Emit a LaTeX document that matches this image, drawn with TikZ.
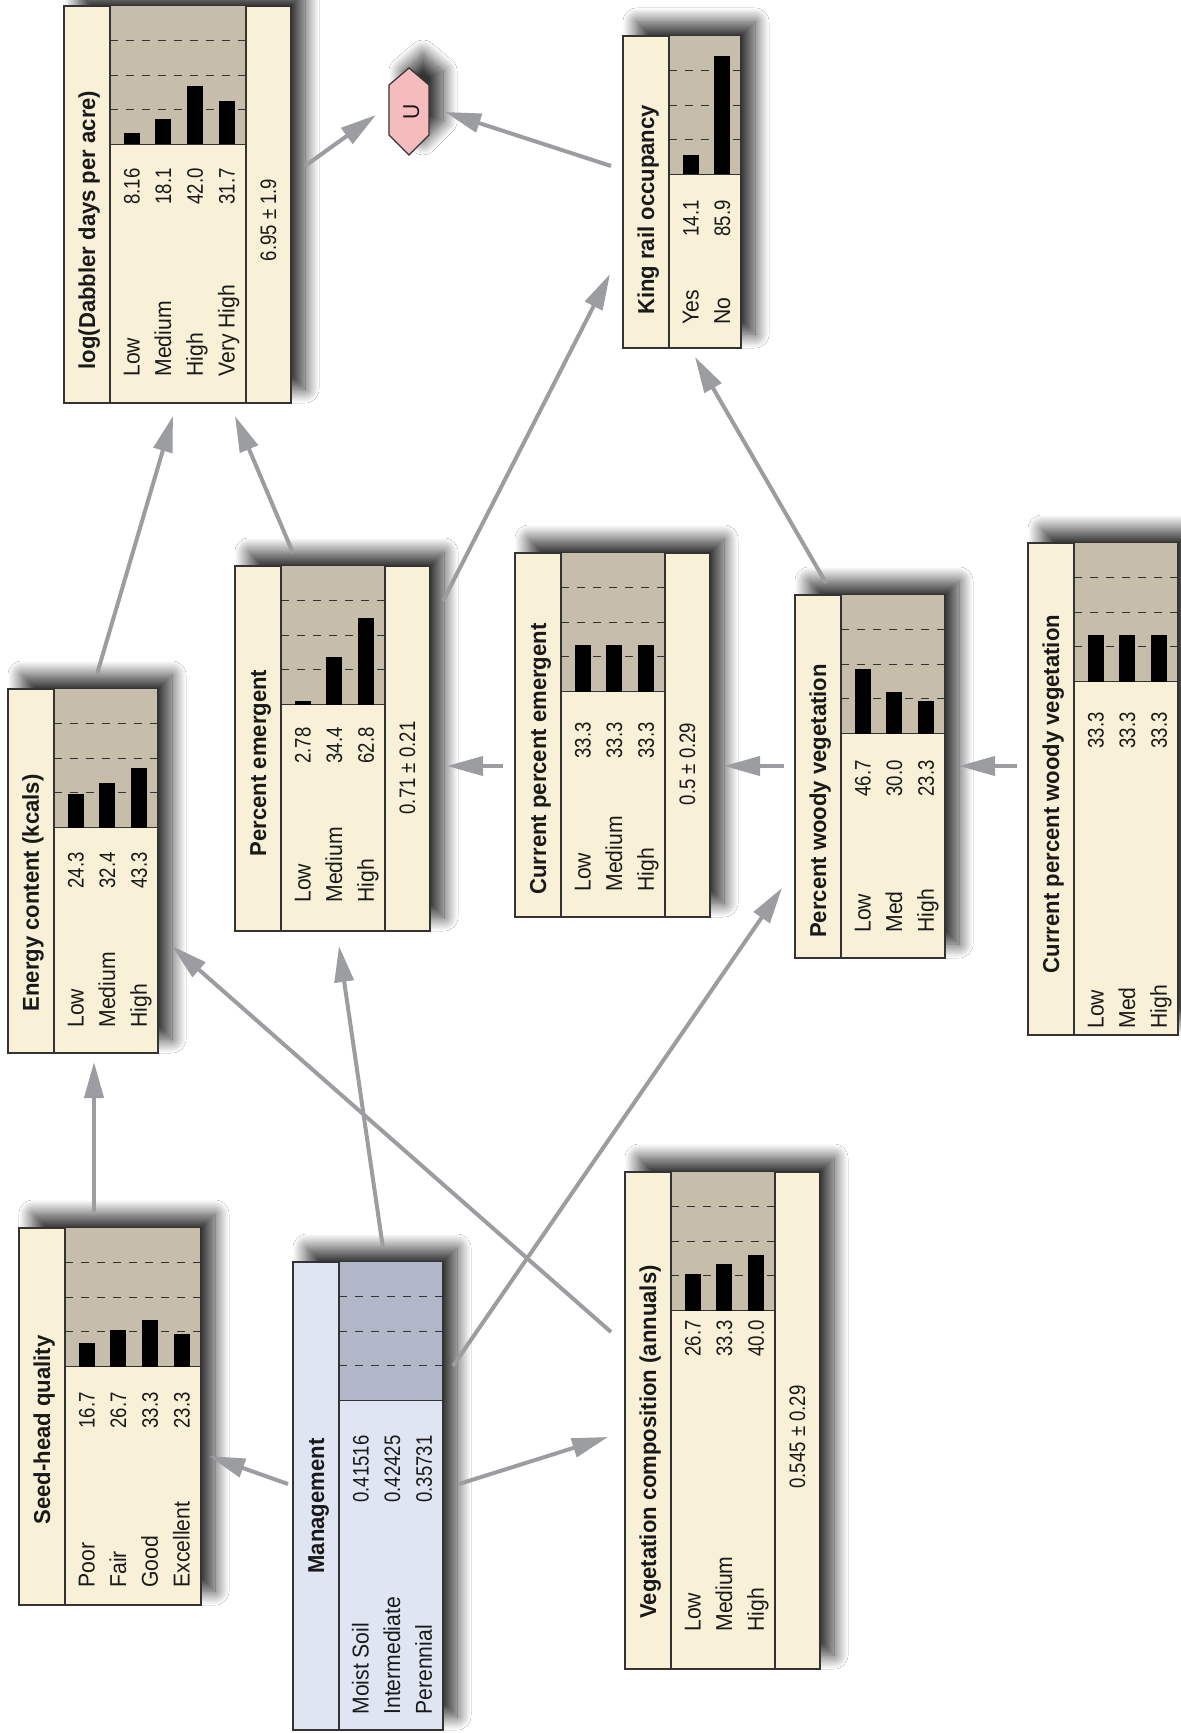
\documentclass[tikz,border=0pt]{standalone}
\usepackage{fontspec}
\setmainfont{Liberation Sans}[FakeStretch=0.92]
\newfontfamily\titlefont{Liberation Sans}[FakeStretch=0.96]
\newfontfamily\numfont{Liberation Sans}[FakeStretch=0.83]
\usetikzlibrary{arrows.meta,fit,shadows.blur}

% one network node: frame, chart panel and its grid (all sizes in px)
\newcommand{\netbox}[8]{%
  \pgfmathsetmacro{\bxT}{#2+46}%
  \pgfmathsetmacro{\bxC}{#2+54+32*#5}%
  \pgfmathsetmacro{\bxR}{\bxC+#6}%
  \pgfmathsetmacro{\bxG}{#3+138.5}%
  \node[netframe, fill=#7, fit={(#2,#3) (\bxR,#4)}] (#1) {};
  \fill[#8] (\bxT,#3) rectangle (\bxC,\bxG);
  \foreach \f in {0.25,0.5,0.75}
    \draw[gridline] (\bxT,{\bxG-138.5*\f}) -- (\bxC,{\bxG-138.5*\f});
  \draw[netedge] (\bxT,#3) -- (\bxT,#4);
  \draw[netedge] (\bxT,\bxG) -- (\bxC,\bxG);
  \draw[netedge] (\bxC,#3) -- (\bxC,#4);
  \draw[netedge] (#1.north west) rectangle (#1.south east);
}
% bars of the belief chart
\newcommand{\netbars}[3]{%
  \foreach \p [count=\i from 0] in {#3}
    \fill[netbar] ({#1+59.5+31.7*\i},{#2+138.5}) rectangle ({#1+75.5+31.7*\i},{#2+138.5-1.385*\p});
}
% state names and their values
\newcommand{\netrows}[5]{%
  \foreach \s/\v [count=\i from 0] in {#5} {
    \node[statelbl] (#1-s\i) at ({#2+75.5+31.7*\i},#3) {\s};
    \node[vallbl] (#1-v\i) at ({#2+75.5+31.7*\i},#4) {\v};
  }%
}

\begin{document}
\begin{tikzpicture}[
    x=0.5pt, y=-0.5pt,
    every node/.style={inner sep=0pt, text=black!90},
    netshadow/.style={blur shadow={shadow xshift=7pt, shadow yshift=7pt,
                   shadow blur radius=7pt, shadow blur steps=24, shadow opacity=80}},
    netframe/.style={draw=edgeGray, line width=0.6pt, inner sep=0pt, netshadow},
    netedge/.style={draw=edgeGray, line width=0.6pt},
    gridline/.style={draw=edgeGray, line width=0.5pt, dash pattern=on 3.75pt off 4.25pt},
    netbar/.style={fill=black},
    statelbl/.style={rotate=90, anchor=base west, font=\fontsize{11.5}{13}\selectfont},
    vallbl/.style={rotate=90, anchor=base east, font=\numfont\fontsize{11.2}{13}\selectfont},
    titlelbl/.style={rotate=90, anchor=base, font=\titlefont\bfseries\fontsize{11.5}{13}\selectfont},
    netlink/.style={draw=linkGray, line width=2pt, -{Triangle[length=18pt,width=9.5pt]}},
]

\definecolor{nodeCream}{RGB}{248,241,215}
\definecolor{chartTan}{RGB}{198,190,170}
\definecolor{mgmtBlue}{RGB}{223,229,242}
\definecolor{mgmtChart}{RGB}{178,182,201}
\definecolor{edgeGray}{RGB}{51,51,51}
\definecolor{linkGray}{RGB}{156,157,161}
\definecolor{utilPink}{RGB}{246,187,189}

\fill[white] (0,0) rectangle (1180,1733);
\useasboundingbox (0,0) rectangle (1180,1733);

% ============================================================
% TOP ROW
% ============================================================
\netbox{dab}{64}{6}{403}{4}{45}{nodeCream}{chartTan}
\netbars{64}{6}{8.16,18.1,42.0,31.7}
\netrows{dab}{64}{377}{168}{Low/8.16,Medium/18.1,High/42.0,Very High/31.7}
\node[titlelbl] (dab-t) at (95,230) {log(Dabbler days per acre)};
\node[vallbl, anchor=base] (dab-m) at (276,220) {6.95 ± 1.9};

\netbox{king}{623}{36}{348}{2}{0}{nodeCream}{chartTan}
\netbars{623}{36}{14.1,85.9}
\netrows{king}{623}{325}{200}{Yes/14.1,No/85.9}
\node[titlelbl] (king-t) at (654,210) {King rail occupancy};

% utility node
\filldraw[fill=utilPink, draw=edgeGray, line width=0.6pt, netshadow]
    (409,68) -- (429,85) -- (429,135) -- (409,155) -- (389,135) -- (389,85) -- cycle;
\node[rotate=90, anchor=base, font=\fontsize{11.5}{13}\selectfont] (u) at (419,112) {U};

% ============================================================
% MIDDLE ROW
% ============================================================
\netbox{energy}{8}{689}{1053}{3}{0}{nodeCream}{chartTan}
\netbars{8}{689}{24.3,32.4,43.3}
\netrows{energy}{8}{1028}{852}{Low/24.3,Medium/32.4,High/43.3}
\node[titlelbl] (energy-t) at (39,893) {Energy content (kcals)};

\netbox{pctem}{235}{566}{931}{3}{45}{nodeCream}{chartTan}
\netbars{235}{566}{2.78,34.4,62.8}
\netrows{pctem}{235}{903}{727}{Low/2.78,Medium/34.4,High/62.8}
\node[titlelbl] (pctem-t) at (266,763) {Percent emergent};
\node[vallbl, anchor=base] (pctem-m) at (415,768) {0.71 ± 0.21};

\netbox{curem}{515}{553}{917}{3}{45}{nodeCream}{chartTan}
\netbars{515}{553}{33.3,33.3,33.3}
\netrows{curem}{515}{892}{722}{Low/33.3,Medium/33.3,High/33.3}
\node[titlelbl] (curem-t) at (546,759) {Current percent emergent};
\node[vallbl, anchor=base] (curem-m) at (695,764) {0.5 ± 0.29};

\netbox{woody}{795}{595}{958}{3}{0}{nodeCream}{chartTan}
\netbars{795}{595}{46.7,30.0,23.3}
\netrows{woody}{795}{933}{760}{Low/46.7,Med/30.0,High/23.3}
\node[titlelbl] (woody-t) at (826,801) {Percent woody vegetation};

\netbox{curwoody}{1028}{543}{1035}{3}{0}{nodeCream}{chartTan}
\netbars{1028}{543}{33.3,33.3,33.3}
\netrows{curwoody}{1028}{1029}{712}{Low/33.3,Med/33.3,High/33.3}
\node[titlelbl] (curwoody-t) at (1059,794) {Current percent woody vegetation};

% ============================================================
% BOTTOM ROW
% ============================================================
\netbox{seed}{19}{1228}{1605}{4}{0}{nodeCream}{chartTan}
\netbars{19}{1228}{16.7,26.7,33.3,23.3}
\netrows{seed}{19}{1588}{1392}{Poor/16.7,Fair/26.7,Good/33.3,Excellent/23.3}
\node[titlelbl] (seed-t) at (50,1430) {Seed-head quality};

\netbox{mgmt}{293}{1262}{1730}{3}{0}{mgmtBlue}{mgmtChart}
\netrows{mgmt}{293}{1715}{1435}{Moist Soil/0.41516,Intermediate/0.42425,Perennial/0.35731}
\node[titlelbl] (mgmt-t) at (324,1506) {Management};

\netbox{veg}{625}{1172}{1669}{3}{45}{nodeCream}{chartTan}
\netbars{625}{1172}{26.7,33.3,40.0}
\netrows{veg}{625}{1632}{1320}{Low/26.7,Medium/33.3,High/40.0}
\node[titlelbl] (veg-t) at (656,1442) {Vegetation composition (annuals)};
\node[vallbl, anchor=base] (veg-m) at (805,1437) {0.545 ± 0.29};

% ============================================================
% LINKS
% ============================================================
\coordinate (dab-out) at (305,166);      \coordinate (u-in1) at (376,115);
\coordinate (king-out) at (611,166);     \coordinate (u-in2) at (445,112);
\coordinate (energy-out) at (97,674);    \coordinate (dab-in1) at (173,416);
\coordinate (pctem-out1) at (293,553);   \coordinate (dab-in2) at (235,416);
\coordinate (pctem-out2) at (443,601);   \coordinate (king-in1) at (610,274);
\coordinate (woody-out1) at (826,583);   \coordinate (king-in2) at (695,357);
\coordinate (curem-out) at (503,766);    \coordinate (pctem-in1) at (447,766);
\coordinate (woody-out2) at (784,766);   \coordinate (curem-in) at (724,766);
\coordinate (curwoody-out) at (1017,766);\coordinate (woody-in1) at (959,766);
\coordinate (seed-out) at (94,1212);     \coordinate (energy-in1) at (94,1062);
\coordinate (mgmt-out1) at (288,1484);   \coordinate (seed-in) at (209,1456);
\coordinate (mgmt-out2) at (383,1248);   \coordinate (pctem-in2) at (339,946);
\coordinate (mgmt-out3) at (453,1366);   \coordinate (woody-in2) at (782,888);
\coordinate (mgmt-out4) at (459,1484);   \coordinate (veg-in) at (608,1437);
\coordinate (veg-out) at (611,1332);     \coordinate (energy-in2) at (172,946);

\draw[netlink] (dab-out) -- (u-in1);
\draw[netlink] (king-out) -- (u-in2);
\draw[netlink] (energy-out) -- (dab-in1);
\draw[netlink] (pctem-out1) -- (dab-in2);
\draw[netlink] (pctem-out2) -- (king-in1);
\draw[netlink] (woody-out1) -- (king-in2);
\draw[netlink] (curem-out) -- (pctem-in1);
\draw[netlink] (woody-out2) -- (curem-in);
\draw[netlink] (curwoody-out) -- (woody-in1);
\draw[netlink] (seed-out) -- (energy-in1);
\draw[netlink] (mgmt-out1) -- (seed-in);
\draw[netlink] (mgmt-out2) -- (pctem-in2);
\draw[netlink] (mgmt-out3) -- (woody-in2);
\draw[netlink] (mgmt-out4) -- (veg-in);
\draw[netlink] (veg-out) -- (energy-in2);

\end{tikzpicture}
\end{document}
